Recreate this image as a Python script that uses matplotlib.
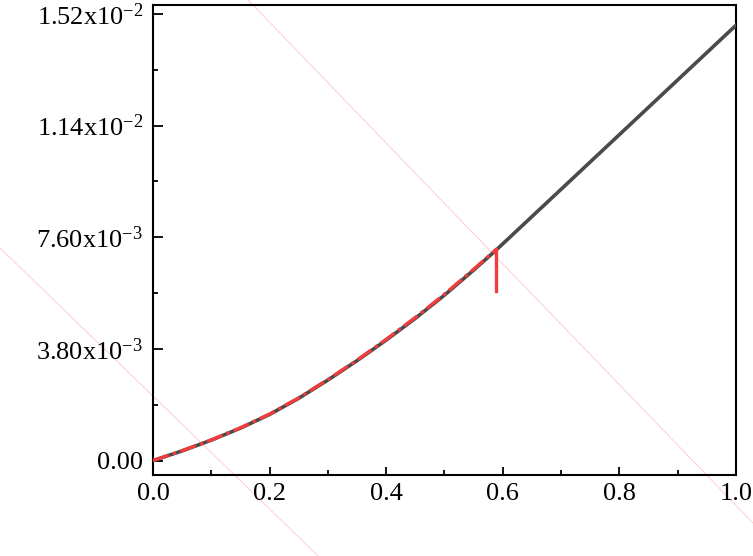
import numpy as np
import matplotlib
matplotlib.use("Agg")
import matplotlib.pyplot as plt
from matplotlib.ticker import MultipleLocator, FixedLocator

plt.rcParams['font.family'] = ['Liberation Serif', 'DejaVu Serif']
plt.rcParams['mathtext.fontset'] = 'custom'
plt.rcParams['mathtext.rm'] = 'Liberation Serif'
plt.rcParams['mathtext.default'] = 'regular'

# black solid curve
x_black = [0.0, 0.05, 0.1, 0.15, 0.2, 0.25, 0.3, 0.35, 0.4, 0.45, 0.5, 0.55, 0.589,
           0.7, 0.8, 0.9, 1.0]
y_black = [0.0, 0.33e-3, 0.695e-3, 1.105e-3, 1.57e-3, 2.12e-3, 2.74e-3, 3.40e-3, 4.10e-3,
           4.84e-3, 5.63e-3, 6.48e-3, 7.17e-3, 9.23e-3, 11.09e-3, 12.95e-3, 14.81e-3]

# red dashed curve
x_red = [0.0, 0.05, 0.1, 0.15, 0.2, 0.25, 0.3, 0.35, 0.4, 0.45, 0.5, 0.55, 0.589]
y_red = [0.0, 0.34e-3, 0.705e-3, 1.115e-3, 1.585e-3, 2.135e-3, 2.76e-3, 3.42e-3, 4.125e-3,
         4.87e-3, 5.66e-3, 6.51e-3, 7.19e-3]
# red drop at the end
x_drop = [0.589, 0.589]
y_drop = [7.19e-3, 5.78e-3]

# faint pink guide lines
guide_a_x = [0.13, 1.1]
guide_a_y = [0.01635, -0.00358]
guide_b_x = [-0.3, 0.32]
guide_b_y = [0.007958, -0.003951]

yticks = [0.0, 3.8e-3, 7.6e-3, 1.14e-2, 1.52e-2]
ytick_labels = ['0.00', r'3.80x10$^{-3}$', r'7.60x10$^{-3}$', r'1.14x10$^{-2}$', r'1.52x10$^{-2}$']
xticks = [0.0, 0.2, 0.4, 0.6, 0.8, 1.0]
xtick_labels = ['0.0', '0.2', '0.4', '0.6', '0.8', '1.0']

fig = plt.figure(figsize=(7.53, 5.56), dpi=100)
ax = fig.add_axes([0.2032, 0.1457, 0.7742, 0.8453])

ax.plot(guide_a_x, guide_a_y, color='#ffbcbc', lw=0.5, clip_on=False, zorder=1)
ax.plot(guide_b_x, guide_b_y, color='#ffbcbc', lw=0.5, clip_on=False, zorder=1)

ax.plot(x_black, y_black, color='#4a4a4a', lw=2.6, zorder=3)
ax.plot(x_red, y_red, color='#f03c3c', lw=2.4, dashes=(5, 1.3, 1, 1.3), zorder=4)
ax.plot(x_drop, y_drop, color='#f03c3c', lw=2.4, zorder=4)

ax.set_xlim(0, 1.0)
ax.set_ylim(-0.00049, 0.0155)

ax.xaxis.set_major_locator(FixedLocator(xticks))
ax.set_xticklabels(xtick_labels)
ax.xaxis.set_minor_locator(MultipleLocator(0.1))
ax.yaxis.set_major_locator(FixedLocator(yticks))
ax.set_yticklabels(ytick_labels)
ax.yaxis.set_minor_locator(MultipleLocator(1.9e-3))

for s in ax.spines.values():
    s.set_linewidth(1.5)

ax.tick_params(axis='both', which='both', direction='in', labelsize=19, width=1.3)
ax.tick_params(axis='x', which='major', length=6, pad=6)
ax.tick_params(axis='x', which='minor', length=3.5)
ax.tick_params(axis='y', which='major', length=7, pad=7)
ax.tick_params(axis='y', which='minor', length=3.5)

fig.savefig('out.png', dpi=100)
